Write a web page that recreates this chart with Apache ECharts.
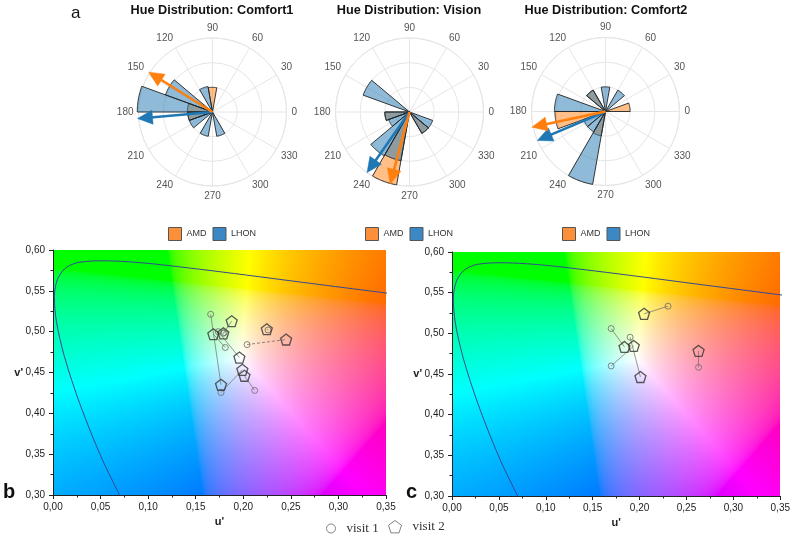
<!DOCTYPE html>
<html><head><meta charset="utf-8">
<script src="https://cdn.jsdelivr.net/npm/echarts@6/dist/echarts.min.js"></script>
<style>html,body{margin:0;padding:0;background:#fff}#c{width:793px;height:541px}</style>
</head><body><div id="c"></div>
<script>
// ================= DATA =================
const polarTitles = ['Hue Distribution: Comfort1', 'Hue Distribution: Vision', 'Hue Distribution: Comfort2'];
const binWidth = 20; // degrees per hue bin
// Comfort1
const c1AmdBins = [80, 160, 180];
const c1AmdVals = [1.0, 1.02, 1.0];
const c1LhonBins = [100, 140, 160, 180, 200, 240, 280];
const c1LhonVals = [1.05, 2.03, 3.05, 1.0, 1.0, 1.0, 1.0];
const c1AmdArrow = [148, 3.05];
const c1LhonArrow = [185, 3.05];
// Vision
const visAmdBins = [180, 240, 300];
const visAmdVals = [1.0, 3.0, 1.0];
const visLhonBins = [140, 180, 200, 220, 240, 300, 320];
const visLhonVals = [2.0, 1.0, 0.9, 2.05, 2.0, 1.0, 1.0];
const visAmdArrow = [255, 3.02];
const visLhonArrow = [235, 3.0];
// Comfort2
const c2AmdBins = [0, 120, 180, 240];
const c2AmdVals = [1.0, 1.0, 2.05, 1.0];
const c2LhonBins = [40, 80, 120, 160, 200, 220, 240];
const c2LhonVals = [1.0, 1.0, 1.0, 2.07, 0.95, 0.95, 3.0];
const c2AmdArrow = [192, 3.05];
const c2LhonArrow = [203, 3.0];

// Chromaticity plots (u', v')
const uMin = 0, uMax = 0.35, uStep = 0.05;
const vMin = 0.30, vMax = 0.60, vStep = 0.05;
// spectral locus (480 nm ... 600 nm)
const locusU = [0.0828, 0.0521, 0.0282, 0.0119, 0.0035, 0.0014, 0.0046, 0.0123, 0.0231, 0.0360, 0.0501, 0.0643, 0.0792, 0.0953, 0.1127, 0.1531, 0.2026, 0.2623, 0.3315, 0.4035];
const locusV = [0.2708, 0.3427, 0.4117, 0.4699, 0.5130, 0.5431, 0.5638, 0.5770, 0.5837, 0.5861, 0.5868, 0.5865, 0.5856, 0.5841, 0.5821, 0.5766, 0.5694, 0.5604, 0.5501, 0.5393];
// panel b (pairs by index)
const visit1B_u = [0.1657, 0.1811, 0.1737, 0.1790, 0.1766, 0.2120, 0.2040, 0.2260, 0.1800];
const visit1B_v = [0.5213, 0.4806, 0.5000, 0.4980, 0.4255, 0.4280, 0.4842, 0.5020, 0.4990];
const visit2B_u = [0.1766, 0.1685, 0.1959, 0.1878, 0.1990, 0.2012, 0.2450, 0.2247, 0.1790];
const visit2B_v = [0.4350, 0.4969, 0.4683, 0.5128, 0.4533, 0.4460, 0.4904, 0.5030, 0.4980];
const dashedPairsB = [6];
// panel c
const visit1C_u = [0.2303, 0.1697, 0.1899, 0.1697, 0.2629];
const visit1C_v = [0.5334, 0.5059, 0.4952, 0.4599, 0.4582];
const visit2C_u = [0.2048, 0.1839, 0.2009, 0.1938, 0.2629];
const visit2C_v = [0.5240, 0.4833, 0.4463, 0.4845, 0.4784];

// ================= CHART =================
const FONT = "'Liberation Sans', Arial, sans-serif";
const SERIF = "'Liberation Serif', 'Times New Roman', serif";
const PENT = 'path://M0,-1L0.951,-0.309L0.588,0.809L-0.588,0.809L-0.951,-0.309Z';
const AMD_FILL = 'rgba(255,127,14,0.5)', LHON_FILL = 'rgba(31,119,180,0.5)';
const AMD_C = '#ff7f0e', LHON_C = '#1f77b4';

const polarCenters = [[212.5, 112], [409.5, 112], [605.5, 111.5]];
const polarSets = [
  {amdB: c1AmdBins, amdV: c1AmdVals, lhB: c1LhonBins, lhV: c1LhonVals, amdA: c1AmdArrow, lhA: c1LhonArrow},
  {amdB: visAmdBins, amdV: visAmdVals, lhB: visLhonBins, lhV: visLhonVals, amdA: visAmdArrow, lhA: visLhonArrow},
  {amdB: c2AmdBins, amdV: c2AmdVals, lhB: c2LhonBins, lhV: c2LhonVals, amdA: c2AmdArrow, lhA: c2LhonArrow}
];

function sectorRender(params, api) {
  const a0 = api.value(0), rv = api.value(1), a1 = a0 + binWidth;
  const c = api.coord([0, a0]);
  const pts = [c];
  for (let a = a0; a <= a1 + 1e-9; a += 1) pts.push(api.coord([rv, a]));
  return {type: 'polygon', shape: {points: pts},
    style: {fill: api.visual('color'), stroke: '#222', lineWidth: 0.9, lineJoin: 'round'}};
}
function arrowRender(params, api) {
  const ang = api.value(0), len = api.value(1);
  const c = api.coord([0, ang]);
  const tip = api.coord([len, ang]);
  const dx = tip[0] - c[0], dy = tip[1] - c[1], L = Math.hypot(dx, dy);
  const ux = dx / L, uy = dy / L;
  const head = 15, hw = 7;
  const bx = tip[0] - ux * head, by = tip[1] - uy * head;
  const col = api.visual('color');
  return {type: 'group', children: [
    {type: 'line', shape: {x1: c[0], y1: c[1], x2: bx + ux * 2, y2: by + uy * 2}, style: {stroke: col, lineWidth: 2.6}},
    {type: 'polygon', shape: {points: [[tip[0], tip[1]], [bx - uy * hw, by + ux * hw], [bx + uy * hw, by - ux * hw]]}, style: {fill: col, stroke: col, lineWidth: 0.5}}
  ]};
}

const zip = (a, b) => a.map((x, i) => [x, b[i]]);
const gridLine = {color: '#e6e6e6', width: 1};

const polar = [], angleAxis = [], radiusAxis = [], series = [], legend = [];
polarCenters.forEach((ctr, i) => {
  polar.push({center: ctr, radius: 74});
  angleAxis.push({polarIndex: i, type: 'value', min: 0, max: 360, interval: 30, startAngle: 0, clockwise: false,
    axisLine: {show: true, lineStyle: gridLine}, axisTick: {show: false},
    axisLabel: {color: '#555', fontSize: 10, fontFamily: FONT, margin: 5, formatter: v => (v === 360 ? '' : String(v))},
    splitLine: {show: true, lineStyle: gridLine}});
  radiusAxis.push({polarIndex: i, type: 'value', min: 0, max: 3, interval: 1,
    axisLine: {show: false}, axisTick: {show: false}, axisLabel: {show: false},
    splitLine: {show: true, lineStyle: gridLine}});
  const s = polarSets[i];
  series.push({type: 'custom', name: 'AMD', coordinateSystem: 'polar', polarIndex: i, renderItem: sectorRender,
    encode: {angle: 0, radius: 1}, itemStyle: {color: AMD_FILL}, data: zip(s.amdB, s.amdV), z: 2});
  series.push({type: 'custom', name: 'LHON', coordinateSystem: 'polar', polarIndex: i, renderItem: sectorRender,
    encode: {angle: 0, radius: 1}, itemStyle: {color: LHON_FILL}, data: zip(s.lhB, s.lhV), z: 2});
  series.push({type: 'custom', name: 'LHON', coordinateSystem: 'polar', polarIndex: i, renderItem: arrowRender,
    encode: {angle: 0, radius: 1}, itemStyle: {color: LHON_C}, data: [s.lhA], z: 3});
  series.push({type: 'custom', name: 'AMD', coordinateSystem: 'polar', polarIndex: i, renderItem: arrowRender,
    encode: {angle: 0, radius: 1}, itemStyle: {color: AMD_C}, data: [s.amdA], z: 3});
});
[168, 365, 562].forEach(x => legend.push({
  left: x, top: 227, padding: 0, itemWidth: 13, itemHeight: 13, itemGap: 6, selectedMode: false,
  textStyle: {fontSize: 9, color: '#333', fontFamily: FONT},
  data: [
    {name: 'AMD', icon: 'rect', itemStyle: {color: '#fb8f3a', borderColor: '#555', borderWidth: 1}},
    {name: 'LHON', icon: 'rect', itemStyle: {color: '#3b88c4', borderColor: '#555', borderWidth: 1}}
  ]}));
legend.push({left: 326, top: 522, padding: 0, itemWidth: 9, itemHeight: 9, selectedMode: false,
  textStyle: {fontSize: 13, color: '#333', fontFamily: SERIF, padding: [0, 0, 0, 6]},
  data: [{name: 'visit 1', icon: 'circle', itemStyle: {color: 'rgba(0,0,0,0)', borderColor: '#666', borderWidth: 1}}]});
legend.push({left: 388, top: 520, padding: 0, itemWidth: 13, itemHeight: 13, selectedMode: false,
  textStyle: {fontSize: 13, color: '#333', fontFamily: SERIF, padding: [0, 0, 0, 6]},
  data: [{name: 'visit 2', icon: PENT, itemStyle: {color: 'rgba(0,0,0,0)', borderColor: '#666', borderWidth: 1}}]});

const grids = [
  {left: 53, top: 250, width: 333, height: 245},
  {left: 452, top: 252, width: 330, height: 244}
];
const fmt = v => v.toFixed(2).replace('.', ',');
const xAxis = [], yAxis = [];
grids.forEach((g, i) => {
  xAxis.push({gridIndex: i, type: 'value', min: uMin, max: uMax, interval: uStep, name: "u'", nameLocation: 'middle', nameGap: 21,
    nameMoveOverlap: false,
    nameTextStyle: {fontWeight: 'bold', fontSize: 11, color: '#222', fontFamily: FONT},
    axisLine: {show: true, onZero: false, lineStyle: {color: '#222', width: 1}},
    axisTick: {show: true, length: 4, lineStyle: {color: '#222'}},
    minorTick: {show: true, splitNumber: 2, length: 2.5, lineStyle: {color: '#222'}},
    axisLabel: {formatter: fmt, fontSize: 10, color: '#222', fontFamily: FONT, margin: 7},
    splitLine: {show: false}, minorSplitLine: {show: false}});
  yAxis.push({gridIndex: i, type: 'value', min: vMin, max: vMax, interval: vStep, name: "v'", nameLocation: 'middle', nameGap: 30, nameRotate: 0,
    nameMoveOverlap: false,
    nameTextStyle: {fontWeight: 'bold', fontSize: 11, color: '#222', fontFamily: FONT},
    axisLine: {show: true, onZero: false, lineStyle: {color: '#222', width: 1}},
    axisTick: {show: true, length: 4, lineStyle: {color: '#222'}},
    minorTick: {show: true, splitNumber: 2, length: 2.5, lineStyle: {color: '#222'}},
    axisLabel: {formatter: fmt, fontSize: 10, color: '#222', fontFamily: FONT, margin: 8},
    splitLine: {show: false}, minorSplitLine: {show: false}});
});

function addCiePanel(gi, u1, v1, u2, v2, dashed) {
  series.push({type: 'line', name: 'locus', xAxisIndex: gi, yAxisIndex: gi, data: zip(locusU, locusV),
    showSymbol: false, smooth: 0.3, clip: true, lineStyle: {color: '#34488f', width: 1}, silent: true, z: 3});
  series.push({type: 'lines', coordinateSystem: 'cartesian2d', xAxisIndex: gi, yAxisIndex: gi, silent: true, z: 3,
    lineStyle: {color: '#6a6a6a', width: 0.8, opacity: 0.85},
    data: u1.map((u, i) => ({coords: [[u, v1[i]], [u2[i], v2[i]]],
      lineStyle: dashed.indexOf(i) >= 0 ? {type: [3, 2], color: '#555'} : undefined}))});
  series.push({type: 'scatter', name: 'visit 1', xAxisIndex: gi, yAxisIndex: gi, symbol: 'circle', symbolSize: 6,
    itemStyle: {color: 'rgba(0,0,0,0)', borderColor: '#6a6a6a', borderWidth: 1}, data: zip(u1, v1), z: 4});
  series.push({type: 'scatter', name: 'visit 2', xAxisIndex: gi, yAxisIndex: gi, symbol: PENT, symbolSize: 11,
    itemStyle: {color: 'rgba(0,0,0,0)', borderColor: '#333', borderWidth: 1.3}, data: zip(u2, v2), z: 5});
}
addCiePanel(0, visit1B_u, visit1B_v, visit2B_u, visit2B_v, dashedPairsB);
addCiePanel(1, visit1C_u, visit1C_v, visit2C_u, visit2C_v, []);

const chart = echarts.init(document.getElementById('c'), null, {renderer: 'canvas'});
chart.setOption({animation: false, backgroundColor: '#fff', textStyle: {fontFamily: FONT},
  polar, angleAxis, radiusAxis, grid: grids, xAxis, yAxis, legend, series});

// chromaticity background (u',v' -> sRGB, clipped & normalised)
function cie(u, v) {
  const d = 6 * u - 16 * v + 12;
  const x = 9 * u / d, y = 4 * v / d;
  const X = x / y, Y = 1, Z = (1 - x - y) / y;
  let r = 3.2406 * X - 1.5372 * Y - 0.4986 * Z;
  let g = -0.9689 * X + 1.8758 * Y + 0.0415 * Z;
  let b = 0.0557 * X - 0.2040 * Y + 1.0570 * Z;
  r = Math.max(r, 0); g = Math.max(g, 0); b = Math.max(b, 0);
  const m = Math.max(r, g, b) || 1;
  const gm = c => { c /= m; return c <= 0.0031308 ? 12.92 * c : 1.055 * Math.pow(c, 1 / 2.4) - 0.055; };
  return [gm(r) * 255, gm(g) * 255, gm(b) * 255];
}
function bgImage(gi) {
  const p0 = chart.convertToPixel({gridIndex: gi}, [uMin, vMax]);
  const p1 = chart.convertToPixel({gridIndex: gi}, [uMax, vMin]);
  const W = Math.round(p1[0] - p0[0]), H = Math.round(p1[1] - p0[1]);
  const cv = document.createElement('canvas'); cv.width = W; cv.height = H;
  const ctx = cv.getContext('2d'); const img = ctx.createImageData(W, H);
  for (let py = 0; py < H; py++) {
    for (let px = 0; px < W; px++) {
      const u = uMin + (px + 0.5) / W * (uMax - uMin);
      const v = vMax - (py + 0.5) / H * (vMax - vMin);
      const c = cie(u, v); const k = (py * W + px) * 4;
      img.data[k] = c[0]; img.data[k + 1] = c[1]; img.data[k + 2] = c[2]; img.data[k + 3] = 255;
    }
  }
  ctx.putImageData(img, 0, 0);
  return {type: 'image', x: p0[0], y: p0[1], z: -10, silent: true, style: {image: cv, width: W, height: H}};
}
const txt = (text, x, y, font, align, va) => ({type: 'text', x, y, silent: true, z: 10,
  style: {text, font, fill: '#111', textAlign: align || 'left', textVerticalAlign: va || 'bottom', verticalAlign: va || 'bottom'}});
chart.setOption({graphic: [
  bgImage(0), bgImage(1),
  txt('a', 71, 22, "17px " + FONT),
  txt(polarTitles[0], 212, 10, "bold 12.7px " + FONT, 'center', 'middle'),
  txt(polarTitles[1], 409, 10, "bold 12.7px " + FONT, 'center', 'middle'),
  txt(polarTitles[2], 606, 10, "bold 12.7px " + FONT, 'center', 'middle'),
  txt('b', 3, 502, "bold 20px " + FONT),
  txt('c', 406, 502, "bold 20px " + FONT)
]});
</script></body></html>
